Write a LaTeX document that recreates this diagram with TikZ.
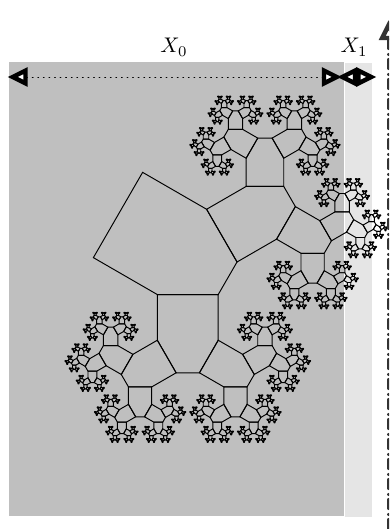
\documentclass[tikz,border=0pt]{standalone}
\usepackage{amsmath,amssymb}
\usepackage{tikz}
\usetikzlibrary{arrows.meta}
\usepackage{xcolor}

\tikzset{
  spantip/.tip={Triangle[fill=white,length=10.5pt,width=9.6pt,line width=2.3pt]},
  spanline/.style={{spantip}-{spantip},dash pattern=on 0.5pt off 2.4pt},
  axisline/.style={-{spantip},black!80,line width=1.1pt,dash pattern=on 5.2pt off 2.1pt on 0.5pt off 2.6pt},
  zoneA/.style={fill=black!25},
  zoneB/.style={fill=black!10},
  cellline/.style={line width=0.5pt},
  spanlabel/.style={anchor=base,scale=1.1}
}

\newcommand{\treecell}[1]{%
  \draw[cellline] (-.5,0) -- (-.5,.75) -- (-.191,1.285) -- (.191,1.285) -- (.5,.75) -- (.5,0) -- cycle;
  \ifnum#1>0
    \begin{scope}[shift={(-.3455,1.0175)},rotate=60,scale=.618]\treecell{\numexpr#1-1\relax}\end{scope}
    \begin{scope}[shift={(.3455,1.0175)},rotate=-60,scale=.618]\treecell{\numexpr#1-1\relax}\end{scope}
  \fi
}

\begin{document}
\begin{tikzpicture}[x=0.52pt,y=0.52pt,line cap=round]
\useasboundingbox (0,0) rectangle (389,529);
\clip (0,0) rectangle (389,529);
\fill[zoneA] (9,13) rectangle (344,467);
\fill[zoneB] (345,12) rectangle (371.5,466);
% the tree
\begin{scope}[shift={(118,314)},rotate=-120,scale=98.5]
\treecell{9}
\end{scope}
% spans on top
\coordinate (spanL) at (7.5,452);
\coordinate (spanM) at (342,452);
\coordinate (spanN) at (337,452);
\coordinate (spanR) at (376.5,452);
\draw[spanline] (spanL) -- (spanM);
\draw[spanline] (spanN) -- (spanR);
\node[spanlabel] (labelA) at (174,476) {$X_0$};
\node[spanlabel] (labelB) at (354,476) {$X_1$};
% axis at the right edge
\coordinate (axisB) at (388.5,0);
\coordinate (axisT) at (388.5,509);
\draw[axisline] (axisB) -- (axisT);
\node[anchor=base west,scale=1.1] (labelC) at (383,517) {$A$};
\end{tikzpicture}
\end{document}
